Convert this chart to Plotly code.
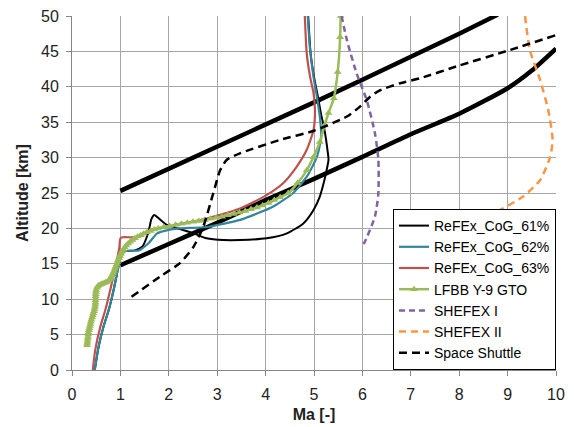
import plotly.graph_objects as go

# ---- data (Ma, altitude km) ----
cog61_ma = [0.47, 0.55, 0.65, 0.76, 0.86, 0.96, 1.02, 1.10, 1.30, 1.45, 1.58, 1.64, 1.70, 1.78, 1.96, 2.23, 2.51, 2.78, 3.13, 3.47, 4.02, 4.44, 4.78, 4.99, 5.12, 5.20, 5.26, 5.30, 5.28, 5.25, 5.21, 5.15, 5.08, 5.00, 4.93, 4.88]
cog61_alt = [0.0, 3.3, 6.1, 8.5, 11.3, 14.6, 16.4, 16.8, 16.9, 17.4, 19.5, 21.3, 21.9, 21.5, 20.5, 19.9, 19.3, 18.6, 18.35, 18.35, 18.6, 19.3, 20.7, 22.6, 24.5, 26.4, 28.2, 29.7, 31.0, 32.5, 34.2, 36.0, 38.6, 41.4, 44.7, 50.0]

cog62_ma = [0.47, 0.55, 0.65, 0.76, 0.86, 0.96, 1.02, 1.10, 1.38, 1.58, 1.76, 2.00, 2.23, 2.78, 3.47, 4.16, 4.57, 4.85, 5.06, 5.15, 5.12, 5.06, 4.99, 4.92, 4.87]
cog62_alt = [0.0, 3.3, 6.1, 8.5, 11.3, 14.6, 16.3, 16.8, 16.9, 17.9, 19.3, 19.8, 20.0, 20.2, 21.2, 23.1, 25.0, 27.3, 30.1, 33.0, 35.8, 38.6, 41.4, 45.2, 50.0]

cog63_ma = [0.43, 0.48, 0.585, 0.69, 0.79, 0.90, 0.98, 1.00, 1.05, 1.30, 1.45, 1.65, 2.10, 2.78, 3.47, 4.02, 4.35, 4.64, 4.85, 4.99, 5.02, 4.99, 4.92, 4.85, 4.81]
cog63_alt = [0.0, 2.8, 6.1, 8.5, 11.3, 14.6, 17.4, 18.6, 18.75, 18.75, 19.2, 19.8, 20.4, 21.4, 22.8, 24.7, 26.3, 28.7, 31.1, 33.9, 36.7, 39.1, 41.4, 44.7, 50.0]

lfbb_ma = [0.31, 0.315, 0.32, 0.325, 0.33, 0.335, 0.34, 0.35, 0.36, 0.37, 0.38, 0.39, 0.40, 0.415, 0.43, 0.44, 0.455, 0.465, 0.475, 0.48,
           0.485, 0.487, 0.488, 0.488, 0.49, 0.495, 0.50, 0.515, 0.53, 0.55, 0.58, 0.61, 0.64, 0.67, 0.70, 0.73, 0.76, 0.79, 0.81, 0.83,
           0.85, 0.87, 0.885, 0.90, 0.92, 0.935, 0.95, 0.97, 0.99, 1.01, 1.03, 1.06, 1.09, 1.12, 1.16, 1.20, 1.25, 1.30, 1.36, 1.42,
           1.48, 1.55, 1.62, 1.70, 1.78, 1.90, 2.02, 2.14, 2.26, 2.38, 2.50, 2.62, 2.74, 2.86, 2.98, 3.10, 3.22, 3.34, 3.46, 3.58,
           3.70, 3.82, 3.94, 4.06, 4.18, 4.30, 4.47, 4.66, 4.85, 4.99, 5.12, 5.22, 5.30, 5.41, 5.49, 5.54, 5.55]
lfbb_alt = [3.5, 3.8, 4.1, 4.4, 4.7, 5.0, 5.3, 5.6, 5.9, 6.2, 6.5, 6.8, 7.1, 7.4, 7.7, 8.0, 8.3, 8.6, 8.9, 9.2,
            9.5, 9.8, 10.1, 10.4, 10.7, 11.0, 11.3, 11.6, 11.8, 11.95, 12.05, 12.15, 12.2, 12.3, 12.4, 12.5, 12.65, 12.85, 13.1, 13.4,
            13.7, 14.0, 14.3, 14.6, 14.9, 15.2, 15.5, 15.8, 16.1, 16.4, 16.7, 17.0, 17.3, 17.6, 17.85, 18.1, 18.35, 18.6, 18.85, 19.05,
            19.25, 19.45, 19.65, 19.85, 20.0, 20.2, 20.35, 20.5, 20.65, 20.8, 20.95, 21.05, 21.2, 21.35, 21.5, 21.65, 21.85, 22.05, 22.25, 22.45,
            22.7, 22.95, 23.25, 23.6, 24.0, 24.4, 25.0, 26.4, 28.2, 30.1, 32.2, 34.6, 36.3, 38.4, 42.1, 47.0, 50.0]

shefex1_ma = [5.57, 5.68, 5.88, 6.09, 6.26, 6.33, 6.33, 6.26, 6.05, 6.00]
shefex1_alt = [50.0, 46.6, 41.9, 38.1, 33.4, 29.7, 25.0, 21.7, 18.1, 17.6]

shefex2_ma = [9.36, 9.46, 9.67, 9.84, 9.93, 9.88, 9.67, 9.32, 8.84, 8.15, 7.33, 7.10]
shefex2_alt = [50.0, 45.2, 41.0, 36.7, 32.5, 30.1, 26.8, 24.5, 22.6, 20.5, 18.4, 17.8]

shuttle_ma = [1.23, 1.82, 2.23, 2.51, 2.71, 2.92, 3.06, 3.20, 3.47, 4.30, 5.00, 5.68, 5.95, 6.16, 6.36, 6.78, 7.19, 8.00, 9.05, 10.0]
shuttle_alt = [10.35, 13.2, 15.1, 17.4, 20.2, 25.0, 28.2, 29.7, 30.6, 32.5, 33.8, 35.8, 37.2, 38.6, 39.5, 40.5, 41.2, 43.0, 45.2, 47.3]

upper_ma = [1, 2, 3, 4, 5, 6, 7, 8, 8.8]
upper_alt = [25.3, 28.4, 31.5, 34.6, 37.8, 41.0, 44.2, 47.5, 50.2]

lower_ma = [1, 2, 3, 4, 5, 6, 7, 8, 9, 9.5, 10]
lower_alt = [14.8, 17.8, 20.8, 24.0, 27.0, 30.1, 33.3, 36.2, 39.8, 42.3, 45.4]

x_ticks = list(range(0, 11))
y_ticks = list(range(0, 51, 5))

FONT = "Liberation Sans, Arial, sans-serif"

fig = go.Figure()

# corridor limits (no legend)
fig.add_trace(go.Scatter(x=upper_ma, y=upper_alt, mode="lines", showlegend=False,
                         line=dict(color="black", width=4.5), hoverinfo="skip"))
fig.add_trace(go.Scatter(x=lower_ma, y=lower_alt, mode="lines", showlegend=False,
                         line=dict(color="black", width=4.5, shape="spline", smoothing=0.6),
                         hoverinfo="skip"))

fig.add_trace(go.Scatter(x=cog61_ma, y=cog61_alt, mode="lines", name="ReFEx_CoG_61%",
                         line=dict(color="black", width=2, shape="spline", smoothing=0.6)))
fig.add_trace(go.Scatter(x=cog62_ma, y=cog62_alt, mode="lines", name="ReFEx_CoG_62%",
                         line=dict(color="#31859C", width=2.2, shape="spline", smoothing=0.6)))
fig.add_trace(go.Scatter(x=cog63_ma, y=cog63_alt, mode="lines", name="ReFEx_CoG_63%",
                         line=dict(color="#C0504D", width=2.2, shape="spline", smoothing=0.6)))
fig.add_trace(go.Scatter(x=lfbb_ma, y=lfbb_alt, mode="lines+markers", name="LFBB Y-9 GTO",
                         line=dict(color="#9BBB59", width=2.5, shape="spline", smoothing=0.6),
                         marker=dict(symbol="triangle-up", size=7, color="#9BBB59")))
fig.add_trace(go.Scatter(x=shefex1_ma, y=shefex1_alt, mode="lines", name="SHEFEX I",
                         line=dict(color="#8064A2", width=2.5, dash="6px,4px", shape="spline", smoothing=0.6)))
fig.add_trace(go.Scatter(x=shefex2_ma, y=shefex2_alt, mode="lines", name="SHEFEX II",
                         line=dict(color="#F79646", width=2.5, dash="7px,5px", shape="spline", smoothing=0.6)))
fig.add_trace(go.Scatter(x=shuttle_ma, y=shuttle_alt, mode="lines", name="Space Shuttle",
                         line=dict(color="black", width=2.5, dash="8px,5px", shape="spline", smoothing=0.6)))

axis_common = dict(
    showgrid=True, gridcolor="#A6A6A6", gridwidth=1,
    showline=True, linecolor="#868686", linewidth=1,
    ticks="outside", ticklen=5, tickcolor="#868686",
    tickfont=dict(family=FONT, size=16, color="#222"),
    zeroline=False,
)

fig.update_xaxes(range=[0, 10], tickvals=x_ticks, ticktext=[str(v) for v in x_ticks],
                 title=dict(text="<b>Ma [-]</b>", font=dict(family=FONT, size=16, color="#222"), standoff=6),
                 ticklabelstandoff=5, **axis_common)
fig.update_yaxes(range=[0, 50], tickvals=y_ticks, ticktext=[str(v) for v in y_ticks],
                 title=dict(text="<b>Altitude [km]</b>", font=dict(family=FONT, size=16, color="#222"), standoff=8),
                 ticklabelstandoff=4, **axis_common)

fig.update_layout(
    width=574, height=427,
    margin=dict(l=72, r=18, t=16, b=57, autoexpand=False),
    paper_bgcolor="white", plot_bgcolor="white",
    font=dict(family=FONT, size=16, color="#222"),
    legend=dict(x=1, y=0, xanchor="right", yanchor="bottom",
                bgcolor="white", bordercolor="black", borderwidth=1,
                font=dict(family=FONT, size=14, color="black"),
                tracegroupgap=0, itemwidth=30),
    showlegend=True,
)

fig.write_html("out.html")
